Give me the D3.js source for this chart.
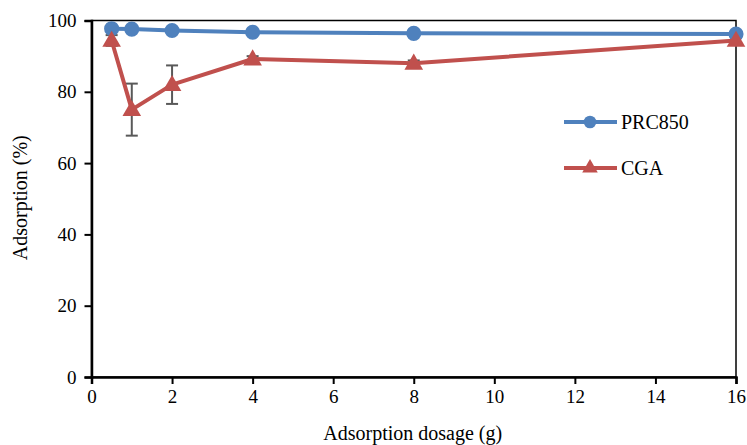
<!DOCTYPE html>
<html>
<head>
<meta charset="utf-8">
<script src="https://cdn.jsdelivr.net/npm/d3@7"></script>
<style>
  body { margin: 0; background: #fff; }
  svg text { fill: #000; }
</style>
</head>
<body>
<div id="chart-area"></div>
<script>
const dosage = [0.5, 1, 2, 4, 8, 16];
const prc850 = [97.7, 97.6, 97.2, 96.7, 96.4, 96.2];
const prc850Err = [0.5, 0.5, 0.5, 0.5, 0.5, 0.5];
const cga = [94.4, 75.0, 82.0, 89.2, 88.0, 94.4];
const cgaErr = [1.5, 7.3, 5.4, 0.8, 0.8, 0.8];
const xTicks = [0, 2, 4, 6, 8, 10, 12, 14, 16];
const yTicks = [0, 20, 40, 60, 80, 100];

const serif = '"Liberation Serif", "Times New Roman", Times, "DejaVu Serif", serif';
const margin = {top: 20.5, right: 11, bottom: 68, left: 91.5};
const width = 747, height = 445;

const svg = d3.select("#chart-area").append("svg")
    .attr("width", width)
    .attr("height", height);

const x = d3.scaleLinear().domain([0, 16]).range([margin.left, width - margin.right]);
const y = d3.scaleLinear().domain([0, 100]).range([height - margin.bottom, margin.top]);

// frame
svg.append("rect")
    .attr("x", x(0)).attr("y", y(100))
    .attr("width", x(16) - x(0)).attr("height", y(0) - y(100))
    .attr("fill", "none").attr("stroke", "#000").attr("stroke-width", 1.5);

const xAxis = svg.append("g")
    .attr("transform", `translate(0,${y(0)})`)
    .call(d3.axisBottom(x).tickValues(xTicks).tickSize(7).tickPadding(6).tickFormat(d3.format("d")));
const yAxis = svg.append("g")
    .attr("transform", `translate(${x(0)},0)`)
    .call(d3.axisLeft(y).tickValues(yTicks).tickSize(7).tickPadding(8).tickFormat(d3.format("d")));

[xAxis, yAxis].forEach(g => {
  g.attr("font-family", serif).attr("font-size", 19);
  g.select(".domain").attr("stroke", "#000").attr("stroke-width", 2.5);
  g.selectAll(".tick line").attr("stroke", "#000").attr("stroke-width", 2);
  g.selectAll(".tick text").attr("fill", "#000");
});

// axis titles
svg.append("text")
    .attr("x", (x(0) + x(16)) / 2 - 1).attr("y", 440)
    .attr("text-anchor", "middle").attr("font-family", serif).attr("font-size", 20)
    .text("Adsorption dosage (g)");
svg.append("text")
    .attr("transform", `translate(27,${(y(0) + y(100)) / 2 - 1}) rotate(-90)`)
    .attr("text-anchor", "middle").attr("font-family", serif).attr("font-size", 20)
    .text("Adsorption (%)");

const series = [
  {name: "PRC850", values: prc850, err: prc850Err, color: "#4F81BD", shape: d3.symbolCircle, size: 180},
  {name: "CGA", values: cga, err: cgaErr, color: "#C0504D", shape: d3.symbolTriangle, size: 150}
];

const line = d3.line().x(d => x(d[0])).y(d => y(d[1]));

// error bars
series.forEach(s => {
  const g = svg.append("g").attr("stroke", "#595959").attr("stroke-width", 2);
  dosage.forEach((d, i) => {
    const hi = y(s.values[i] + s.err[i]), lo = y(s.values[i] - s.err[i]);
    g.append("line").attr("x1", x(d)).attr("x2", x(d)).attr("y1", hi).attr("y2", lo);
    g.append("line").attr("x1", x(d) - 6).attr("x2", x(d) + 6).attr("y1", hi).attr("y2", hi);
    g.append("line").attr("x1", x(d) - 6).attr("x2", x(d) + 6).attr("y1", lo).attr("y2", lo);
  });
});

// lines & markers
series.forEach(s => {
  const pts = dosage.map((d, i) => [d, s.values[i]]);
  svg.append("path").datum(pts)
      .attr("d", line).attr("fill", "none")
      .attr("stroke", s.color).attr("stroke-width", 4).attr("stroke-linejoin", "round");
  svg.selectAll(null).data(pts).enter().append("path")
      .attr("d", d3.symbol().type(s.shape).size(s.size))
      .attr("transform", d => `translate(${x(d[0])},${y(d[1]) + (s.shape === d3.symbolTriangle ? 1 : 0)})`)
      .attr("fill", s.color);
});

// legend
series.forEach((s, i) => {
  const ly = 122 + i * 46;
  const g = svg.append("g");
  g.append("line").attr("x1", 564).attr("x2", 617).attr("y1", ly).attr("y2", ly)
      .attr("stroke", s.color).attr("stroke-width", 4);
  g.append("path").attr("d", d3.symbol().type(s.shape).size(s.size * 0.7))
      .attr("transform", `translate(590,${ly})`).attr("fill", s.color);
  g.append("text").attr("x", 621).attr("y", ly + 7)
      .attr("font-family", serif).attr("font-size", 20).text(s.name);
});
</script>
</body>
</html>
